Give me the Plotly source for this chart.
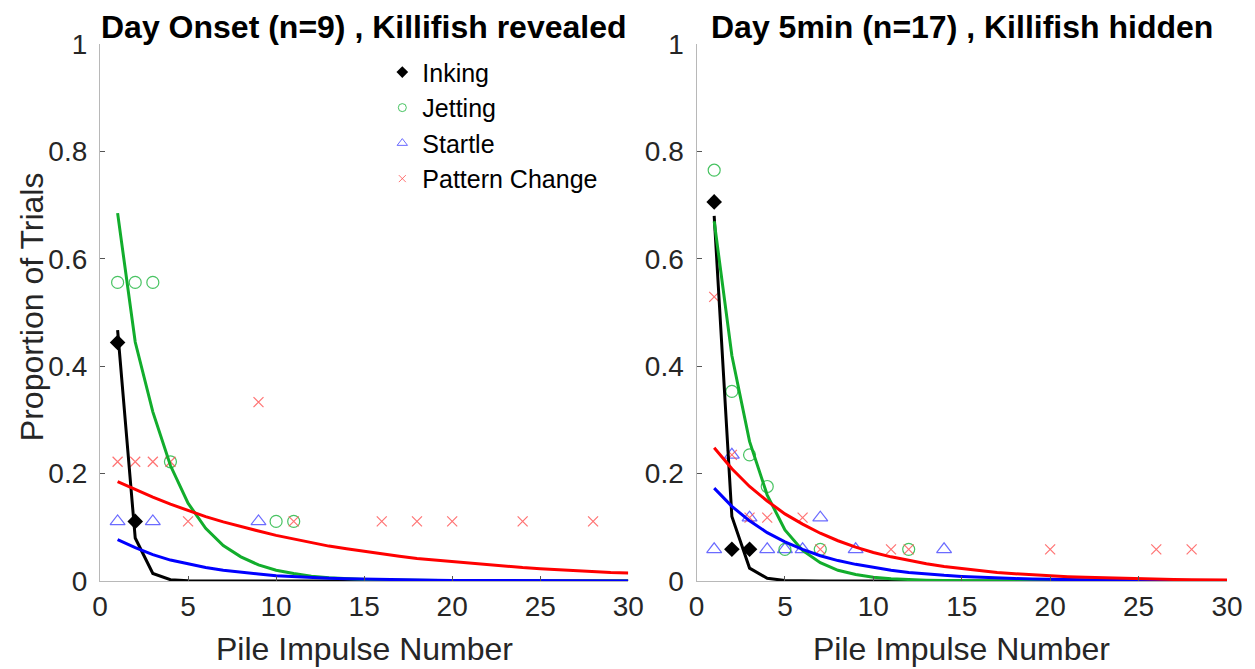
import plotly.graph_objects as go

# ---------------- data ----------------
pulse = list(range(1, 31))

# Left panel: Day Onset (n=9), Killifish revealed
L_ink_x = [1, 2]
L_ink_y = [0.444, 0.111]
L_jet_x = [1, 2, 3, 4, 10, 11]
L_jet_y = [0.556, 0.556, 0.556, 0.222, 0.111, 0.111]
L_sta_x = [1, 3, 9]
L_sta_y = [0.111, 0.111, 0.111]
L_pat_x = [1, 2, 3, 4, 5, 9, 11, 16, 18, 20, 24, 28]
L_pat_y = [0.222, 0.222, 0.222, 0.222, 0.111, 0.333, 0.111, 0.111, 0.111, 0.111, 0.111, 0.111]

L_ink_fit = [0.467, 0.080, 0.014, 0.0024, 0.0004, 0.0001, 0, 0, 0, 0,
             0, 0, 0, 0, 0, 0, 0, 0, 0, 0,
             0, 0, 0, 0, 0, 0, 0, 0, 0, 0]
L_jet_fit = [0.685, 0.445, 0.315, 0.215, 0.145, 0.098, 0.066, 0.045, 0.030, 0.020,
             0.014, 0.009, 0.0062, 0.0042, 0.0028, 0.0019, 0.0013, 0.0009, 0.0006, 0.0004,
             0.0003, 0.0002, 0.0001, 0.0001, 0.0001, 0, 0, 0, 0, 0]
L_sta_fit = [0.077, 0.062, 0.049, 0.039, 0.032, 0.025, 0.020, 0.016, 0.013, 0.010,
             0.008, 0.0066, 0.0053, 0.0042, 0.0034, 0.0027, 0.0022, 0.0017, 0.0014, 0.0011,
             0.0009, 0.0007, 0.0006, 0.0005, 0.0004, 0.0003, 0.0002, 0.0002, 0.0001, 0.0001]
L_pat_fit = [0.185, 0.170, 0.156, 0.143, 0.131, 0.120, 0.110, 0.101, 0.093, 0.085,
             0.078, 0.071, 0.065, 0.060, 0.055, 0.050, 0.046, 0.042, 0.039, 0.036,
             0.033, 0.030, 0.027, 0.025, 0.023, 0.021, 0.019, 0.018, 0.016, 0.015]

# Right panel: Day 5min (n=17), Killifish hidden
R_ink_x = [1, 2, 3]
R_ink_y = [0.706, 0.059, 0.059]
R_jet_x = [1, 2, 3, 4, 5, 7, 12]
R_jet_y = [0.765, 0.353, 0.235, 0.176, 0.059, 0.059, 0.059]
R_sta_x = [1, 2, 3, 4, 5, 6, 7, 9, 14]
R_sta_y = [0.059, 0.235, 0.118, 0.059, 0.059, 0.059, 0.118, 0.059, 0.059]
R_pat_x = [1, 2, 3, 4, 6, 7, 11, 12, 20, 26, 28]
R_pat_y = [0.529, 0.235, 0.118, 0.118, 0.118, 0.059, 0.059, 0.059, 0.059, 0.059, 0.059]

R_ink_fit = [0.680, 0.120, 0.024, 0.005, 0.001, 0.0002, 0, 0, 0, 0,
             0, 0, 0, 0, 0, 0, 0, 0, 0, 0,
             0, 0, 0, 0, 0, 0, 0, 0, 0, 0]
R_jet_fit = [0.670, 0.420, 0.260, 0.160, 0.095, 0.057, 0.034, 0.020, 0.012, 0.007,
             0.004, 0.0025, 0.0015, 0.0009, 0.0005, 0.0003, 0.0002, 0.0001, 0, 0,
             0, 0, 0, 0, 0, 0, 0, 0, 0, 0]
R_sta_fit = [0.173, 0.139, 0.112, 0.090, 0.073, 0.059, 0.047, 0.038, 0.031, 0.025,
             0.020, 0.016, 0.013, 0.0105, 0.0085, 0.0069, 0.0056, 0.0045, 0.0036, 0.0029,
             0.0024, 0.0019, 0.0015, 0.0012, 0.001, 0.0008, 0.0007, 0.0005, 0.0004, 0.0003]
R_pat_fit = [0.248, 0.209, 0.176, 0.149, 0.125, 0.106, 0.089, 0.075, 0.063, 0.053,
             0.045, 0.038, 0.032, 0.027, 0.023, 0.019, 0.016, 0.0135, 0.0114, 0.0096,
             0.0081, 0.0068, 0.0058, 0.0049, 0.0041, 0.0035, 0.0029, 0.0025, 0.0021, 0.0018]

titles = ["Day Onset (n=9) , Killifish revealed", "Day 5min (n=17) , Killifish hidden"]
legend_names = ["Inking", "Jetting", "Startle", "Pattern Change"]
x_ticks = [0, 5, 10, 15, 20, 25, 30]
y_ticks = [0, 0.2, 0.4, 0.6, 0.8, 1]

# ---------------- styles ----------------
FONT = "Liberation Sans, Arial, sans-serif"
TXT = "#262626"
C_INK = "black"
C_JET_M = "rgba(40,185,70,0.85)"
C_STA_M = "rgba(70,70,255,0.8)"
C_PAT_M = "rgba(255,80,80,0.8)"
C_JET_L = "#12ad2c"
C_STA_L = "#0000ff"
C_PAT_L = "#ff0000"

fig = go.Figure()


def add_panel(xa, ya, ink, jet, sta, pat, fits):
    fig.add_trace(go.Scatter(x=sta[0], y=sta[1], mode="markers", xaxis=xa, yaxis=ya, showlegend=False,
                             marker=dict(symbol="triangle-up-open", size=13, color=C_STA_M, line=dict(width=1.2))))
    fig.add_trace(go.Scatter(x=jet[0], y=jet[1], mode="markers", xaxis=xa, yaxis=ya, showlegend=False,
                             marker=dict(symbol="circle-open", size=12, color=C_JET_M, line=dict(width=1.2))))
    fig.add_trace(go.Scatter(x=pat[0], y=pat[1], mode="markers", xaxis=xa, yaxis=ya, showlegend=False,
                             marker=dict(symbol="x-thin-open", size=10, color=C_PAT_M, line=dict(width=1.2, color=C_PAT_M))))
    fig.add_trace(go.Scatter(x=ink[0], y=ink[1], mode="markers", xaxis=xa, yaxis=ya, showlegend=False,
                             marker=dict(symbol="diamond", size=12, color=C_INK)))
    for yv, col in zip(fits, [C_INK, C_JET_L, C_STA_L, C_PAT_L]):
        fig.add_trace(go.Scatter(x=pulse, y=yv, mode="lines", xaxis=xa, yaxis=ya, showlegend=False,
                                 line=dict(color=col, width=3)))


add_panel("x", "y", (L_ink_x, L_ink_y), (L_jet_x, L_jet_y), (L_sta_x, L_sta_y), (L_pat_x, L_pat_y),
          [L_ink_fit, L_jet_fit, L_sta_fit, L_pat_fit])
add_panel("x2", "y2", (R_ink_x, R_ink_y), (R_jet_x, R_jet_y), (R_sta_x, R_sta_y), (R_pat_x, R_pat_y),
          [R_ink_fit, R_jet_fit, R_sta_fit, R_pat_fit])

# legend-only traces (small markers as in the reference legend)
leg_markers = [
    dict(symbol="diamond", size=9, color=C_INK),
    dict(symbol="circle-open", size=8, color=C_JET_M, line=dict(width=1)),
    dict(symbol="triangle-up-open", size=9, color=C_STA_M, line=dict(width=1)),
    dict(symbol="x-thin-open", size=7, color=C_PAT_M, line=dict(width=1, color=C_PAT_M)),
]
for name, mk in zip(legend_names, leg_markers):
    fig.add_trace(go.Scatter(x=[None], y=[None], mode="markers", name=name, marker=mk,
                             xaxis="x", yaxis="y", showlegend=True))

axis_common = dict(
    range=[0, 30], tickvals=x_ticks, ticks="inside", ticklen=5, tickcolor="#555555",
    showline=True, linecolor="#b8b8b8", linewidth=1.3, showgrid=False, zeroline=False,
    tickfont=dict(family=FONT, size=28, color=TXT), mirror=False,
)
yaxis_common = dict(
    range=[0, 1], tickvals=y_ticks, ticktext=["0", "0.2", "0.4", "0.6", "0.8", "1"],
    ticks="inside", ticklen=5, tickcolor="#555555",
    showline=True, linecolor="#b8b8b8", linewidth=1.3, showgrid=False, zeroline=False,
    tickfont=dict(family=FONT, size=28, color=TXT), ticklabelstandoff=6,
)

W, H = 1255, 669
ML, MR, MT, MB = 100, 28, 44, 88
PW = W - ML - MR
left_dom = [0, (628.3 - ML) / PW]
right_dom = [(696.5 - ML) / PW, 1]

fig.update_layout(
    width=W, height=H,
    margin=dict(l=ML, r=MR, t=MT, b=MB),
    paper_bgcolor="white", plot_bgcolor="white",
    font=dict(family=FONT, color=TXT),
    xaxis=dict(domain=left_dom, anchor="y", **axis_common),
    yaxis=dict(domain=[0, 1], anchor="x", **yaxis_common),
    xaxis2=dict(domain=right_dom, anchor="y2", **axis_common),
    yaxis2=dict(domain=[0, 1], anchor="x2", **yaxis_common),
    legend=dict(x=0.2505, y=0.99, xanchor="left", yanchor="top", bgcolor="rgba(0,0,0,0)",
                font=dict(family=FONT, size=25, color="black"), tracegroupgap=0),
    showlegend=True,
)

ann = []
for i, (t, dom) in enumerate(zip(titles, [left_dom, right_dom])):
    cx = (dom[0] + dom[1]) / 2
    ann.append(dict(text="<b>" + t + "</b>", x=cx, y=1, xref="paper", yref="paper",
                    xanchor="center", yanchor="bottom", yshift=-3, showarrow=False,
                    font=dict(family=FONT, size=32, color="black")))
    ann.append(dict(text="Pile Impulse Number", x=cx, y=-(649 - (H - MB)) / (H - MT - MB),
                    xref="paper", yref="paper", xanchor="center", yanchor="middle",
                    showarrow=False, font=dict(family=FONT, size=32, color=TXT)))
ann.append(dict(text="Proportion of Trials", x=(32 - ML) / PW, y=0.51, xref="paper", yref="paper",
                xanchor="center", yanchor="middle", textangle=-90, showarrow=False,
                font=dict(family=FONT, size=32, color=TXT)))
fig.update_layout(annotations=ann)

fig.write_html("out.html")
